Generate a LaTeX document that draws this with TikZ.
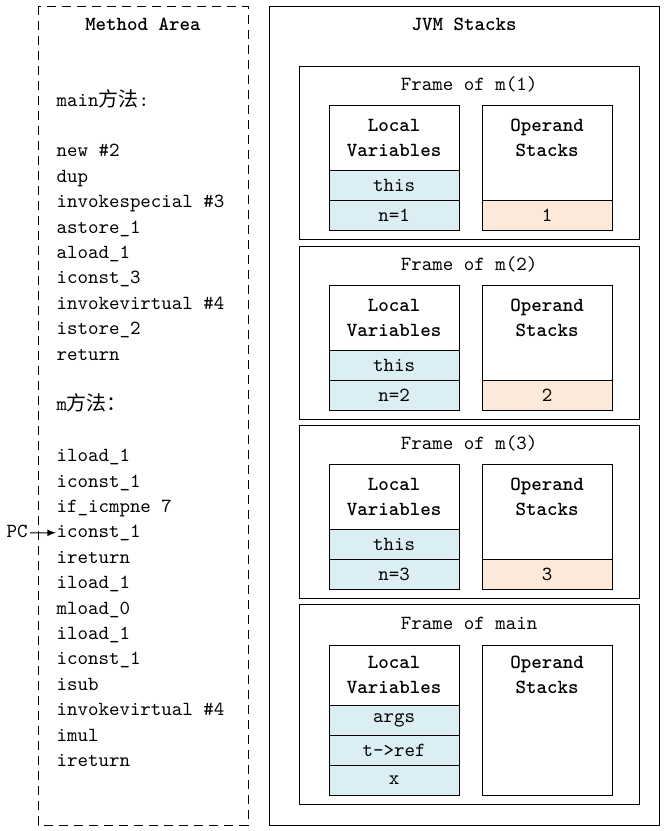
\documentclass[tikz,border=0pt]{standalone}
\usepackage{fontspec}
\usepackage{tikz}
\usepackage{xcolor}
\newfontfamily\cjk{Noto Sans CJK SC}
\definecolor{varblue}{HTML}{DAEEF3}
\definecolor{oppeach}{HTML}{FDE9D9}

\begin{document}
\begin{tikzpicture}[x=0.5pt, y=-0.5pt, line width=0.5pt,
      every node/.style = {font=\ttfamily, inner sep=0pt, align=center},
      code/.style = {anchor=west, text height=7pt, text depth=2pt},
      title/.style = {font=\ttfamily\bfseries},
      head/.style = {font=\ttfamily\bfseries},
      varcell/.style = {draw, fill=varblue},
      opcell/.style = {draw, fill=oppeach}]
    \useasboundingbox (0,0) rectangle (666,831);
    % method area
    \draw[dash pattern=on 4.5pt off 3pt] (38,6) rectangle (248,825);
    \node[title] (ma) at (143,24) {Method Area};
    \foreach \k/\txt [count=\i] in {0/main{\cjk 方法}:, 2/new \#2, 3/dup,
        4/invokespecial \#3, 5/astore\_1, 6/aload\_1, 7/iconst\_3,
        8/invokevirtual \#4, 9/istore\_2, 10/return, 12/m{\cjk 方法：},
        14/iload\_1, 15/iconst\_1, 16/if\_icmpne 7, 17/iconst\_1,
        18/ireturn, 19/iload\_1, 20/mload\_0, 21/iload\_1, 22/iconst\_1,
        23/isub, 24/invokevirtual \#4, 25/imul, 26/ireturn}
      \node[code] (l\i) at (56,101+25.4*\k) {\txt};
    \node[code, anchor=east] (pc) at (28,532.8) {PC};
    \draw[-latex] (pc.east) ++(2,0) -- (l15.west);
    % jvm stacks
    \draw (269,6) rectangle (659,825);
    \node[title] (js) at (464,24) {JVM Stacks};
    \foreach \t/\n [count=\i] in {66/1, 246/2, 425/3} {
      \draw (299,\t) rectangle (639,\t+173);
      \node (f\i) at (469,\t+18) {Frame of m(\n)};
      \draw (329,\t+39) rectangle (459,\t+104);
      \node[head] (lv\i) at (394,\t+71.5) {Local\\[0.5pt]Variables};
      \draw[varcell] (329,\t+104) rectangle (459,\t+134);
      \node (this\i) at (394,\t+119) {this};
      \draw[varcell] (329,\t+134) rectangle (459,\t+164);
      \node (n\i) at (394,\t+149) {n=\n};
      \draw (482,\t+39) rectangle (612,\t+164);
      \node[head] (os\i) at (547,\t+71.5) {Operand\\[0.5pt]Stacks};
      \draw[opcell] (482,\t+134) rectangle (612,\t+164);
      \node (v\i) at (547,\t+149) {\n};
    }
    % frame of main
    \draw (299,604) rectangle (639,804);
    \node (fmain) at (469,623) {Frame of main};
    \draw (329,645) rectangle (459,705);
    \node[head] (lvmain) at (394,675) {Local\\[0.5pt]Variables};
    \draw[varcell] (329,705) rectangle (459,735);
    \node (args) at (394,720) {args};
    \draw[varcell] (329,735) rectangle (459,765);
    \node (tref) at (394,750) {t->ref};
    \draw[varcell] (329,765) rectangle (459,795);
    \node (x) at (394,780) {x};
    \draw (482,645) rectangle (612,795);
    \node[head] (osmain) at (547,675) {Operand\\[0.5pt]Stacks};
\end{tikzpicture}
\end{document}
